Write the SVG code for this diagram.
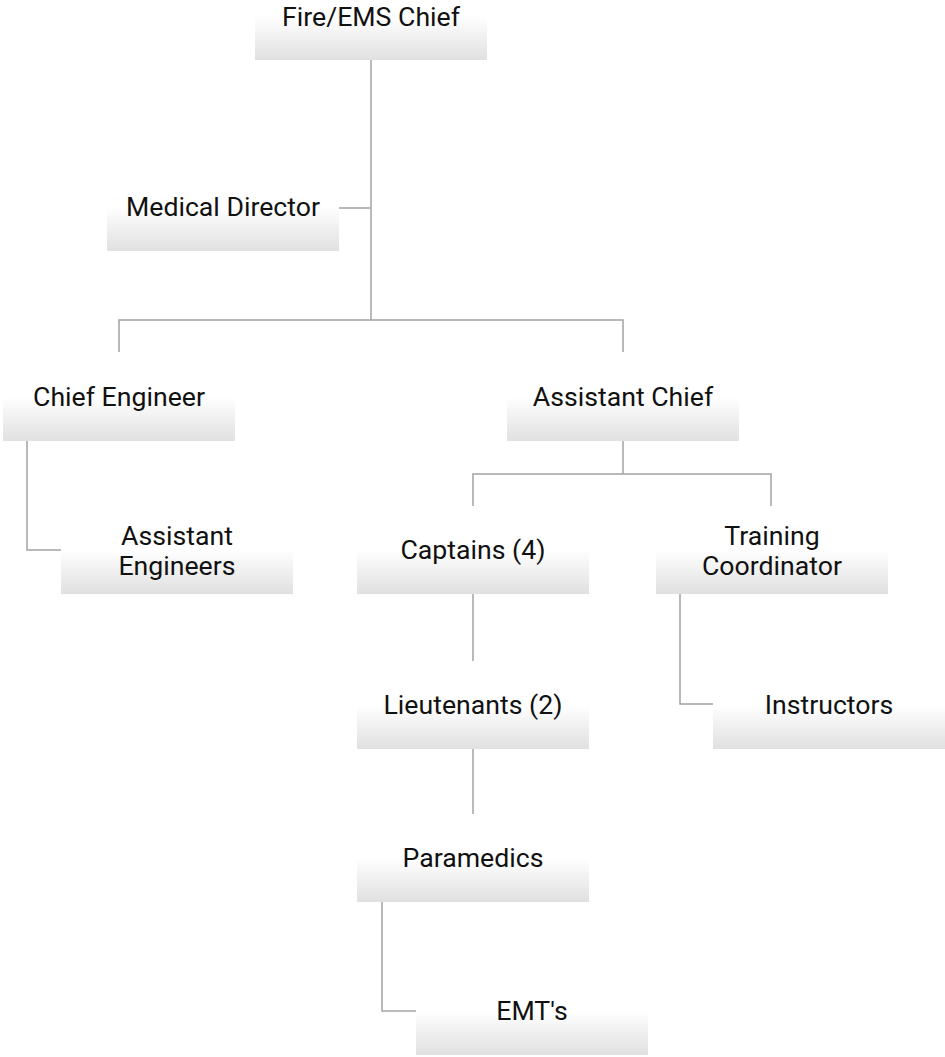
<svg xmlns="http://www.w3.org/2000/svg" width="945" height="1057" viewBox="0 0 945 1057">
<style>
.box{fill:url(#g)}
.t{font-family:Roboto,"Liberation Sans",sans-serif;font-size:26.67px;fill:#111;text-anchor:middle}
.c{fill:none;stroke:#a3a3a3;stroke-width:1.5}
</style>
<defs>
<linearGradient id="g" x1="0" y1="0" x2="0" y2="1">
<stop offset="0" stop-color="#ffffff"/>
<stop offset="0.5" stop-color="#ffffff"/>
<stop offset="1" stop-color="#e0e0e0"/>
</linearGradient>
</defs>
<rect width="945" height="1057" fill="#ffffff"/>
<g id="connectors">
<path class="c" d="M371,60V320"/>
<path class="c" d="M339,208H371"/>
<path class="c" d="M119,352V320H623V352"/>
<path class="c" d="M27,441V550H61"/>
<path class="c" d="M623,441V474"/>
<path class="c" d="M473,506V474H771V506"/>
<path class="c" d="M473,594V661"/>
<path class="c" d="M680,594V704H713"/>
<path class="c" d="M473,749V814"/>
<path class="c" d="M382,902V1011H416"/>
</g>
<g id="fire-ems-chief"><rect class="box" x="255" y="-28" width="232" height="88"/><text class="t" x="371" y="26">Fire/EMS Chief</text></g>
<g id="medical-director"><rect class="box" x="107" y="163" width="232" height="88"/><text class="t" x="223" y="216">Medical Director</text></g>
<g id="chief-engineer"><rect class="box" x="3" y="353" width="232" height="88"/><text class="t" x="119" y="406">Chief Engineer</text></g>
<g id="assistant-chief"><rect class="box" x="507" y="353" width="232" height="88"/><text class="t" x="623" y="406">Assistant Chief</text></g>
<g id="assistant-engineers"><rect class="box" x="61" y="506" width="232" height="88"/><text class="t" x="177" y="545">Assistant</text><text class="t" x="177" y="574.5">Engineers</text></g>
<g id="captains"><rect class="box" x="357" y="506" width="232" height="88"/><text class="t" x="473" y="559">Captains (4)</text></g>
<g id="training-coordinator"><rect class="box" x="656" y="506" width="232" height="88"/><text class="t" x="772" y="545">Training</text><text class="t" x="772" y="574.5">Coordinator</text></g>
<g id="lieutenants"><rect class="box" x="357" y="661" width="232" height="88"/><text class="t" x="473" y="714">Lieutenants (2)</text></g>
<g id="instructors"><rect class="box" x="713" y="661" width="232" height="88"/><text class="t" x="829" y="714">Instructors</text></g>
<g id="paramedics"><rect class="box" x="357" y="814" width="232" height="88"/><text class="t" x="473" y="867">Paramedics</text></g>
<g id="emts"><rect class="box" x="416" y="967" width="232" height="88"/><text class="t" x="532" y="1020">EMT's</text></g>
</svg>
